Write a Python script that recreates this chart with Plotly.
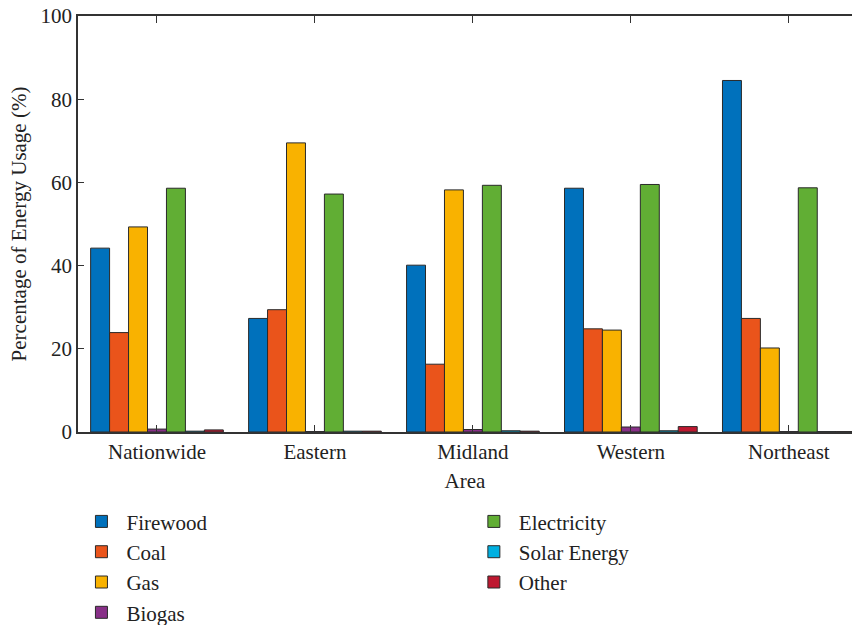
import plotly.graph_objects as go

areas = ["Nationwide", "Eastern", "Midland", "Western", "Northeast"]
series_names = ["Firewood", "Coal", "Gas", "Biogas", "Electricity", "Solar Energy", "Other"]
firewood = [44.2, 27.3, 40.1, 58.6, 84.5]
coal = [23.9, 29.4, 16.3, 24.8, 27.3]
gas = [49.3, 69.5, 58.2, 24.5, 20.2]
biogas = [0.7, 0.1, 0.6, 1.2, 0.1]
electricity = [58.6, 57.2, 59.3, 59.5, 58.7]
solar = [0.2, 0.2, 0.3, 0.3, 0.1]
other = [0.5, 0.2, 0.2, 1.3, 0.1]

values = [firewood, coal, gas, biogas, electricity, solar, other]
colors = ["#0071BC", "#EA541B", "#F9B200", "#883088", "#61AE34", "#00B0E1", "#BE1830"]
legend_ids = ["legend", "legend", "legend", "legend", "legend2", "legend2", "legend2"]

FONT = "Liberation Serif"
TXT = "#222222"
AX = "#333333"

fig = go.Figure()
for name, vals, col, lg in zip(series_names, values, colors, legend_ids):
    fig.add_trace(go.Bar(
        x=list(range(len(areas))), y=vals, name=name,
        marker=dict(color=col, line=dict(color="#2a2a2a", width=1)),
        legend=lg,
    ))

fig.update_layout(
    width=852, height=625,
    margin=dict(l=78, r=0, t=16, b=193, autoexpand=False),
    plot_bgcolor="white", paper_bgcolor="white",
    barmode="group", bargap=0.16, bargroupgap=0,
    font=dict(family=FONT, size=21, color=TXT),
    xaxis=dict(
        tickmode="array", tickvals=list(range(len(areas))), ticktext=areas,
        range=[-0.5, 4.4], showline=True, linecolor=AX, linewidth=1.5,
        mirror="ticks", ticks="inside", ticklen=7, tickcolor=AX, tickwidth=1,
        showgrid=False, zeroline=False, automargin=False,
        title=dict(text="Area", font=dict(size=21), standoff=10),
        tickfont=dict(size=21),
    ),
    yaxis=dict(
        range=[0, 100], tickvals=[0, 20, 40, 60, 80, 100],
        showline=True, linecolor=AX, linewidth=1.5, mirror=False,
        ticks="inside", ticklen=6, tickcolor=AX, tickwidth=1,
        showgrid=False, zeroline=False, automargin=False,
        ticklabeloverflow="allow",
        title=dict(text="Percentage of Energy Usage (%)", font=dict(size=21), standoff=8),
        tickfont=dict(size=21),
    ),
    legend=dict(
        x=-0.002, y=-0.1665, xanchor="left", yanchor="top", orientation="v",
        font=dict(size=21, family=FONT), bgcolor="rgba(0,0,0,0)",
        itemwidth=40, tracegroupgap=0,
    ),
    legend2=dict(
        x=0.505, y=-0.1665, xanchor="left", yanchor="top", orientation="v",
        font=dict(size=21, family=FONT), bgcolor="rgba(0,0,0,0)",
        itemwidth=40, tracegroupgap=0,
    ),
)

fig.write_html("out.html", config={"displayModeBar": False},
               post_script="document.body.style.margin='0';")
